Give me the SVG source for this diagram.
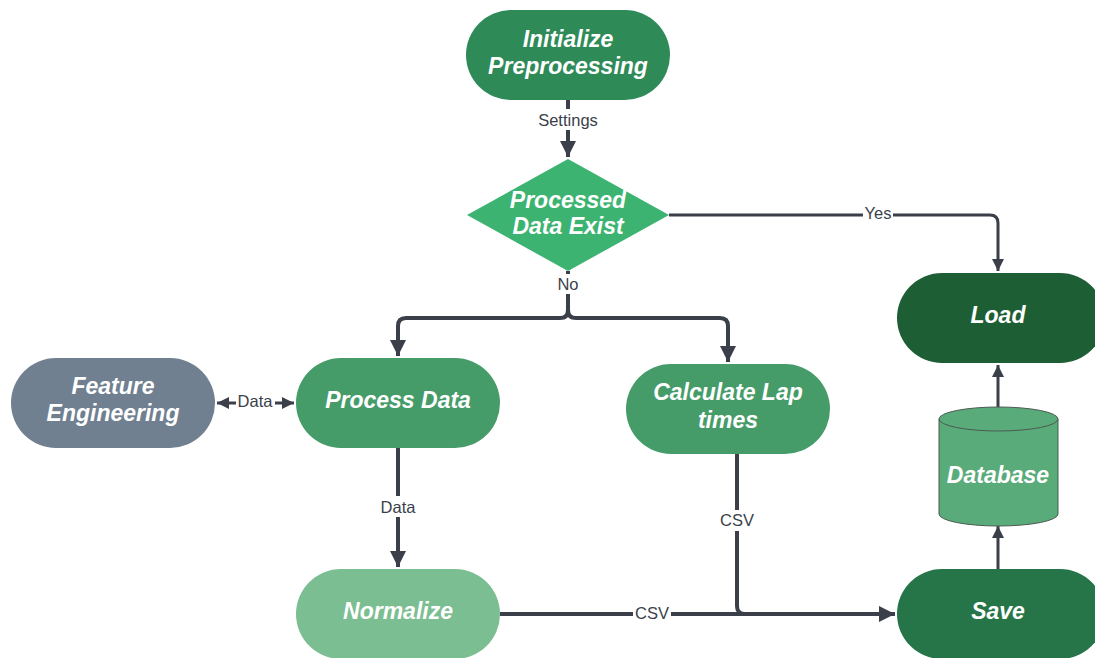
<svg xmlns="http://www.w3.org/2000/svg" width="1095" height="658" viewBox="0 0 1095 658">
  <style>
    .t { font-family: "Liberation Sans", Arial, sans-serif; font-size: 23px; font-weight: bold; font-style: italic; fill: #ffffff; text-anchor: middle; }
    .lbl { font-family: "Liberation Sans", Arial, sans-serif; font-size: 16.5px; fill: #3a3f4a; text-anchor: middle; }
    .lblbg { fill: #ffffff; }
    .edge { fill: none; stroke: #3a3f4a; stroke-width: 4; stroke-linejoin: round; }
    .thin { fill: none; stroke: #3a3f4a; stroke-width: 3; }
  </style>
  <defs>
    <marker id="arrow" viewBox="0 0 10 10" refX="10" refY="5" markerWidth="4" markerHeight="4.5" markerUnits="strokeWidth" orient="auto-start-reverse">
      <path d="M0,0 L10,5 L0,10 Z" fill="#3a3f4a"/>
    </marker>
  </defs>
  <rect width="1095" height="658" fill="#ffffff"/>

  <g id="connectors">
    <!-- Initialize -> decision -->
    <path class="edge" d="M568,100 V157" marker-end="url(#arrow)"/>
    <!-- decision -> Load (Yes) -->
    <path class="thin" d="M669,215 H990 Q998,215 998,223 V271" marker-end="url(#arrow)"/>
    <!-- decision -> Process Data / Calculate Lap times (No) -->
    <path class="edge" d="M568,271 V310 Q568,318 560,318 H406 Q398,318 398,326 V356" marker-end="url(#arrow)"/>
    <path class="edge" d="M568,310 Q568,318 576,318 H720 Q728,318 728,326 V362" marker-end="url(#arrow)"/>
    <!-- Process Data <-> Feature Engineering -->
    <path class="thin" d="M217,403 H294" marker-start="url(#arrow)" marker-end="url(#arrow)"/>
    <!-- Process Data -> Normalize -->
    <path class="edge" d="M398,448 V567" marker-end="url(#arrow)"/>
    <!-- Normalize -> Save -->
    <path class="edge" d="M500,614 H895" marker-end="url(#arrow)"/>
    <!-- Calculate Lap times -> Save -->
    <path class="edge" d="M737,454 V606 Q737,614 745,614"/>
    <!-- Save -> Database -> Load -->
    <path class="thin" d="M998,569 V526" marker-end="url(#arrow)"/>
    <path class="thin" d="M998,407 V365" marker-end="url(#arrow)"/>

    <!-- edge labels -->
    <rect class="lblbg" x="536" y="109" width="64" height="21"/>
    <text class="lbl" x="568" y="126">Settings</text>
    <rect class="lblbg" x="863" y="204" width="30" height="20"/>
    <text class="lbl" x="878" y="219">Yes</text>
    <rect class="lblbg" x="555" y="274" width="27" height="20"/>
    <text class="lbl" x="568" y="290">No</text>
    <rect class="lblbg" x="236" y="393" width="39" height="20"/>
    <text class="lbl" x="255" y="407">Data</text>
    <rect class="lblbg" x="378" y="496" width="40" height="21"/>
    <text class="lbl" x="398" y="513">Data</text>
    <rect class="lblbg" x="717" y="510" width="40" height="21"/>
    <text class="lbl" x="737" y="526">CSV</text>
    <rect class="lblbg" x="633" y="603" width="38" height="21"/>
    <text class="lbl" x="652" y="619">CSV</text>
  </g>

  <g id="initialize">
    <rect x="466" y="10" width="204" height="90" rx="45" fill="#2e8a57"/>
    <text class="t" x="568" y="47">Initialize</text>
    <text class="t" x="568" y="74">Preprocessing</text>
  </g>

  <g id="decision">
    <path d="M568,159 L669,215 L568,271 L467,215 Z" fill="#3cb371"/>
    <text class="t" x="568" y="208">Processed</text>
    <text class="t" x="568" y="234">Data Exist</text>
  </g>

  <g id="load">
    <rect x="897" y="273" width="208" height="90" rx="45" fill="#1e5e34"/>
    <text class="t" x="998" y="323">Load</text>
  </g>

  <g id="feature-engineering">
    <rect x="11" y="358" width="204" height="90" rx="45" fill="#708090"/>
    <text class="t" x="113" y="394">Feature</text>
    <text class="t" x="113" y="421">Engineering</text>
  </g>

  <g id="process-data">
    <rect x="296" y="358" width="204" height="90" rx="45" fill="#459c69"/>
    <text class="t" x="398" y="408">Process Data</text>
  </g>

  <g id="calculate-lap-times">
    <rect x="626" y="364" width="204" height="90" rx="45" fill="#459c69"/>
    <text class="t" x="728" y="400">Calculate Lap</text>
    <text class="t" x="728" y="428">times</text>
  </g>

  <g id="database">
    <path d="M939,419 V514 A59.5,12 0 0 0 1058,514 V419" fill="#5aab7a" stroke="#4a5a52" stroke-width="1"/>
    <ellipse cx="998.5" cy="419" rx="59.5" ry="12" fill="#5aab7a" stroke="#4a5a52" stroke-width="1"/>
    <text class="t" x="998" y="483">Database</text>
  </g>

  <g id="normalize">
    <rect x="296" y="569" width="204" height="90" rx="45" fill="#7bbe91"/>
    <text class="t" x="398" y="619">Normalize</text>
  </g>

  <g id="save">
    <rect x="897" y="569" width="208" height="90" rx="45" fill="#267548"/>
    <text class="t" x="998" y="619">Save</text>
  </g>
</svg>
